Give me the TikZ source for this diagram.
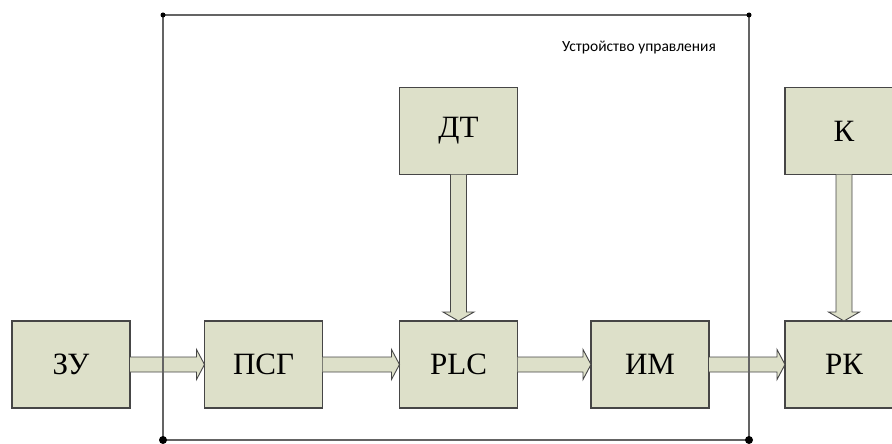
\documentclass[tikz,border=0pt]{standalone}
\usepackage{fontspec}
\setmainfont{Liberation Serif}
\newfontfamily\capfont{Carlito}
\usetikzlibrary{calc}
\definecolor{boxfill}{RGB}{221,224,201}
\definecolor{boxline}{RGB}{70,70,70}
\definecolor{frameline}{RGB}{100,100,100}
\tikzset{
  blk/.style={draw=boxline, line width=1.4pt, fill=boxfill, minimum width=118pt, minimum height=87pt, inner sep=0pt, outer sep=0pt, font=\fontsize{31}{36}\selectfont},
  fatarrow/.style={fill=boxfill, draw=boxline, line width=0.9pt, line join=miter},
  framel/.style={draw=frameline, line width=1.5pt},
  dotsmall/.style={circle, fill=black, inner sep=0pt, minimum size=5pt},
  dotbig/.style={circle, fill=black, inner sep=0pt, minimum size=8pt}
}
\newcommand\myharrow[2]{%
  \filldraw[fatarrow] ($(#1.east)+(0,-7.5)$) -- ($(#2.west)+(-8,-7.5)$) -- ($(#2.west)+(-8,-15)$) -- (#2.west) -- ($(#2.west)+(-8,15)$) -- ($(#2.west)+(-8,7.5)$) -- ($(#1.east)+(0,7.5)$);}
\newcommand\myvarrow[2]{%
  \filldraw[fatarrow] ($(#1.south)+(-8,0)$) -- ($(#2.north)+(-8,-9)$) -- ($(#2.north)+(-15.5,-9)$) -- (#2.north) -- ($(#2.north)+(15.5,-9)$) -- ($(#2.north)+(8,-9)$) -- ($(#1.south)+(8,0)$);}
\begin{document}
\begin{tikzpicture}[x=1pt,y=-1pt]
\clip (0,0) rectangle (892,444);
\useasboundingbox (0,0) rectangle (892,444);
\node[blk] (zu) at (71,364.5) {ЗУ};
\node[blk] (psg) at (263.5,364.5) {ПСГ};
\node[blk] (plc) at (458.5,364.5) {PLC};
\node[blk] (im) at (650,364.5) {ИМ};
\node[blk] (rk) at (844,364.5) {РК};
\node[blk] (dt) at (458.5,131) {ДТ};
\node[blk] (k) at (844,131) {К};
\myharrow{zu}{psg}
\myharrow{psg}{plc}
\myharrow{plc}{im}
\myharrow{im}{rk}
\myvarrow{dt}{plc}
\myvarrow{k}{rk}
\coordinate (tl) at (163,15);
\coordinate (tr) at (749,15);
\coordinate (bl) at (163,440);
\coordinate (br) at (749,440);
\draw[framel] (tl) -- (tr) -- (br) -- (bl) -- cycle;
\node[dotsmall] (dtl) at (tl) {};
\node[dotsmall] (dtr) at (tr) {};
\node[dotbig] (dbl) at (bl) {};
\node[dotbig] (dbr) at (br) {};
\node[font=\capfont\fontsize{15.5}{18}\selectfont, inner sep=0pt] (cap) at (639,48) {Устройство управления};
\end{tikzpicture}
\end{document}
